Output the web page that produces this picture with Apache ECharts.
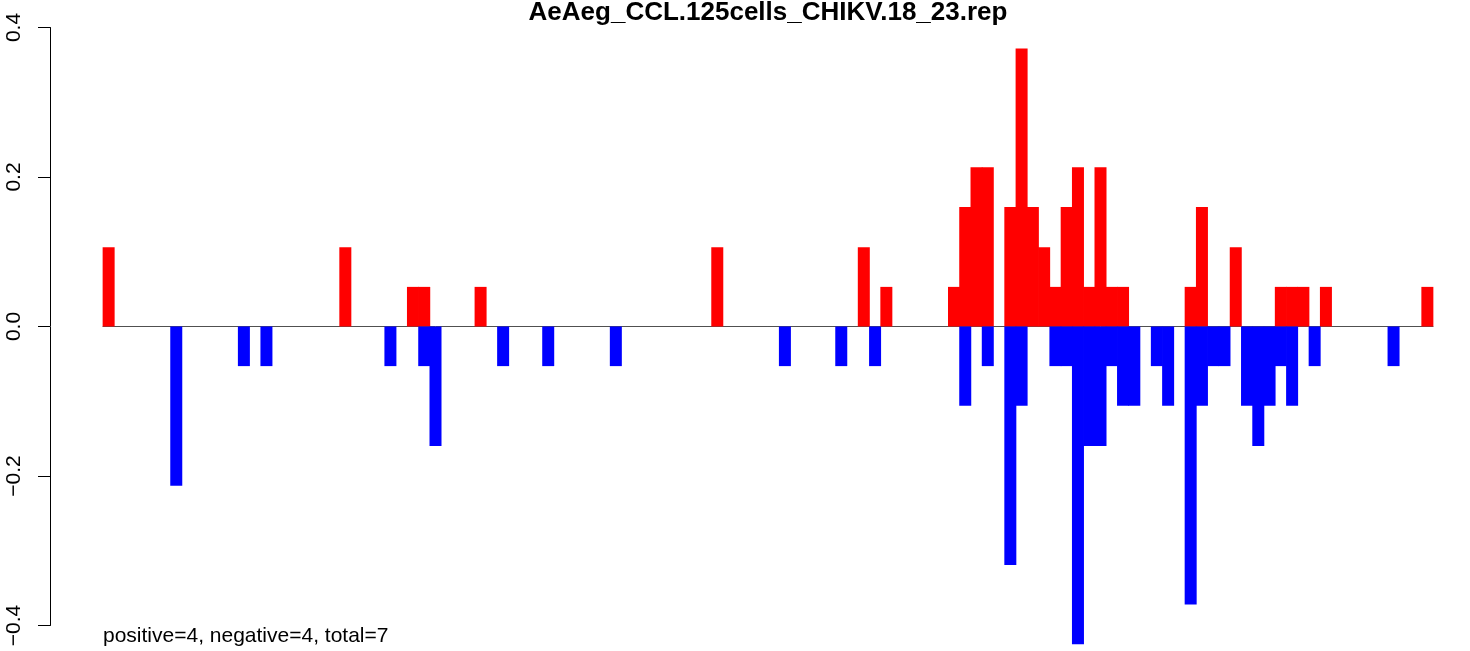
<!DOCTYPE html>
<html>
<head>
<meta charset="utf-8">
<script src="https://cdn.jsdelivr.net/npm/echarts@6/dist/echarts.min.js"></script>
<style>
  html, body { margin: 0; padding: 0; background: #ffffff; }
  #chart { width: 1470px; height: 651px; }
</style>
</head>
<body>
<div id="chart"></div>
<script>
// ---- data ----
const chartTitle = 'AeAeg_CCL.125cells_CHIKV.18_23.rep';
const footnote = 'positive=4, negative=4, total=7';
const yTicks = [-0.4, -0.2, 0.0, 0.2, 0.4];

// 118 positions along the x axis (no labels shown in the reference)
const categories = [];
for (let i = 1; i <= 118; i++) categories.push(String(i));

// red bars (positive)
const positive = [
  0.106, 0, 0, 0, 0, 0, 0, 0, 0, 0,
  0, 0, 0, 0, 0, 0, 0, 0, 0, 0,
  0, 0.106, 0, 0, 0, 0, 0, 0.053, 0.053, 0,
  0, 0, 0, 0.053, 0, 0, 0, 0, 0, 0,
  0, 0, 0, 0, 0, 0, 0, 0, 0, 0,
  0, 0, 0, 0, 0.106, 0, 0, 0, 0, 0,
  0, 0, 0, 0, 0, 0, 0, 0.106, 0, 0.053,
  0, 0, 0, 0, 0, 0.053, 0.160, 0.213, 0.213, 0,
  0.160, 0.372, 0.160, 0.106, 0.053, 0.160, 0.213, 0.053, 0.213, 0.053,
  0.053, 0, 0, 0, 0, 0, 0.053, 0.160, 0, 0,
  0.106, 0, 0, 0, 0.053, 0.053, 0.053, 0, 0.053, 0,
  0, 0, 0, 0, 0, 0, 0, 0.053
];

// blue bars (negative)
const negative = [
  0, 0, 0, 0, 0, 0, -0.213, 0, 0, 0,
  0, 0, -0.053, 0, -0.053, 0, 0, 0, 0, 0,
  0, 0, 0, 0, 0, -0.053, 0, 0, -0.053, -0.160,
  0, 0, 0, 0, 0, -0.053, 0, 0, 0, -0.053,
  0, 0, 0, 0, 0, -0.053, 0, 0, 0, 0,
  0, 0, 0, 0, 0, 0, 0, 0, 0, 0,
  -0.053, 0, 0, 0, 0, -0.053, 0, 0, -0.053, 0,
  0, 0, 0, 0, 0, 0, -0.106, 0, -0.053, 0,
  -0.319, -0.106, 0, 0, -0.053, -0.053, -0.425, -0.160, -0.160, -0.053,
  -0.106, -0.106, 0, -0.053, -0.106, 0, -0.372, -0.106, -0.053, -0.053,
  0, -0.106, -0.160, -0.106, -0.053, -0.106, 0, -0.053, 0, 0,
  0, 0, 0, 0, -0.053, 0, 0, 0
];

// ---- chart ----
const FONT = '"Liberation Sans", Arial, Helvetica, sans-serif';
const toData = arr => arr.map(v => (v === 0 ? '-' : v));

const chart = echarts.init(document.getElementById('chart'), null, { renderer: 'canvas' });
chart.setOption({
  animation: false,
  backgroundColor: '#ffffff',
  title: {
    text: chartTitle,
    left: 768,
    textAlign: 'center',
    top: 0,
    padding: 0,
    textStyle: { fontFamily: FONT, fontSize: 26, fontWeight: 'bold', color: '#000000' }
  },
  grid: { left: 103, right: 37, top: 27.5, height: 598 },
  xAxis: {
    type: 'category',
    data: categories,
    boundaryGap: true,
    axisLine: { show: true, onZero: true, lineStyle: { color: '#505050', width: 1 } },
    axisTick: { show: false },
    axisLabel: { show: false },
    splitLine: { show: false }
  },
  yAxis: {
    type: 'value',
    min: yTicks[0],
    max: yTicks[yTicks.length - 1],
    interval: 0.2,
    offset: 53,
    axisLine: { show: true, lineStyle: { color: '#000000', width: 1 } },
    axisTick: { show: true, length: 12, lineStyle: { color: '#000000', width: 1 } },
    splitLine: { show: false },
    axisLabel: {
      rotate: 90,
      margin: 25,
      fontFamily: FONT,
      fontSize: 21,
      color: '#000000',
      formatter: v => (v < 0 ? '\u2212' : '') + Math.abs(v).toFixed(1)
    }
  },
  series: [
    {
      type: 'bar',
      name: 'positive',
      data: toData(positive),
      barWidth: 12,
      barGap: '-100%',
      clip: false,
      itemStyle: { color: '#ff0000', borderWidth: 0 }
    },
    {
      type: 'bar',
      name: 'negative',
      data: toData(negative),
      barWidth: 12,
      barGap: '-100%',
      clip: false,
      itemStyle: { color: '#0000ff', borderWidth: 0 }
    }
  ],
  graphic: [
    {
      type: 'text',
      left: 103,
      top: 626,
      style: { text: footnote, font: '21px ' + FONT, fill: '#000000' }
    }
  ]
});
</script>
</body>
</html>
